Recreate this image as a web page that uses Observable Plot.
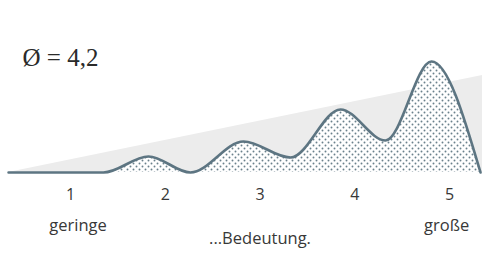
<!DOCTYPE html>
<html><head><meta charset="utf-8">
<script src="https://cdn.jsdelivr.net/npm/d3@7"></script>
<script src="https://cdn.jsdelivr.net/npm/@observablehq/plot@0.6"></script>
<style>body{margin:0;background:#fff}</style>
</head><body><div id="chart"></div>
<script>
// Data
const levels = [1, 2, 3, 4, 5];
const curveX = [0.346, 1.348, 1.823, 2.266, 2.826, 3.322, 3.850, 4.325, 4.810, 5.327];
const curveY = [0, 0, 16, 0, 31, 15, 63, 32, 111, 0];
const rampX = [0.346, 5.348];
const rampY = [0, 97];
const averageLabel = ["Ø = 4,2"];
const endLabels = ["geringe", "große"];
const endLabelX = [1.08, 4.97];
const captionLabel = ["...Bedeutung."];
const captionX = [3];

const curve = curveX.map((x, i) => ({x, y: curveY[i]}));
const ramp = rampX.map((x, i) => ({x, y: rampY[i]}));

const ink = "#5d7582";
const sans = "'Open Sans', sans-serif";

const plot = Plot.plot({
  width: 482, height: 253,
  marginLeft: 0, marginRight: 0, marginTop: 0, marginBottom: 81,
  x: {domain: [0.261, 5.348], axis: null},
  y: {domain: [0, 172], axis: null},
  style: {background: "#fff"},
  marks: [
    Plot.areaY(ramp, {x: "x", y: "y", fill: "#ececec", curve: "linear"}),
    Plot.areaY(curve, {x: "x", y: "y", fill: "url(#dots)", curve: "monotone-x"}),
    Plot.lineY(curve, {x: "x", y: "y", stroke: ink, strokeWidth: 2.6, curve: "monotone-x"}),
    Plot.axisX(levels, {tickSize: 0, tickPadding: 16, fontSize: 16, fontFamily: sans, fill: "#383838", tickFormat: d => d, label: null}),
    Plot.text(endLabels, {x: endLabelX, text: d => d, frameAnchor: "bottom", lineAnchor: "bottom", dy: 58, fontSize: 16.5, fontFamily: sans, fill: "#383838", style: "letter-spacing:1.3px"}),
    Plot.text(captionLabel, {x: captionX, text: d => d, frameAnchor: "bottom", lineAnchor: "bottom", dy: 71, fontSize: 16.5, fontFamily: sans, fill: "#383838", style: "letter-spacing:0.8px"}),
    Plot.text(averageLabel, {text: d => d, frameAnchor: "top-left", textAnchor: "start", lineAnchor: "bottom", dx: 22, dy: 65, fontSize: 25, fontFamily: "'Liberation Serif', serif", fill: "#2a2a2a"})
  ]
});

d3.select(plot).insert("defs", ":first-child").html(`
  <pattern id="dots" width="6" height="6" patternUnits="userSpaceOnUse">
    <rect width="6" height="6" fill="#fff"/>
    <circle cx="1.5" cy="1.5" r="0.95" fill="#6a818c"/>
    <circle cx="4.5" cy="4.5" r="0.95" fill="#6a818c"/>
  </pattern>`);

document.getElementById("chart").appendChild(plot);
</script>
</body></html>
